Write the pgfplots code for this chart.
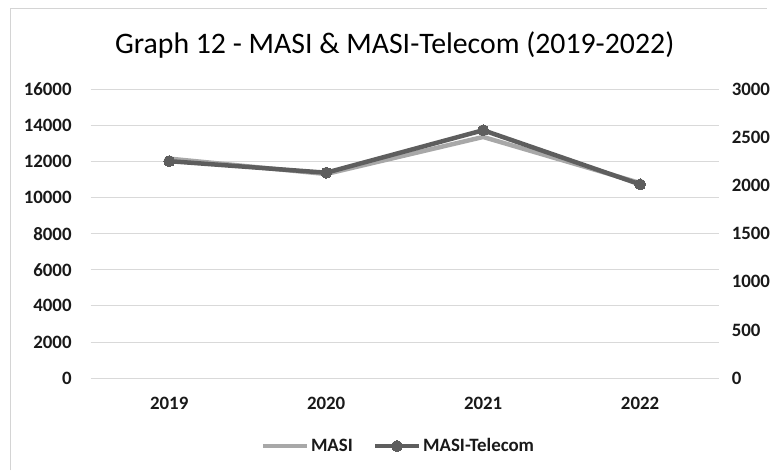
\documentclass[border=0pt]{standalone}
\usepackage{pgfplots}
\pgfplotsset{compat=1.18}
\usepackage{fontspec}
\setmainfont{Carlito}
\definecolor{masi}{HTML}{A8A8A8}
\definecolor{tel}{HTML}{5E5E5E}
\definecolor{gridc}{HTML}{D9D9D9}
\definecolor{framec}{HTML}{D4D4D4}
\begin{document}
\begin{tikzpicture}[x=1bp,y=1bp]
\path (0,0) rectangle (770,472);
\draw[framec, line width=1bp] (10.5,0) -- (10.5,463) -- (770,463);
\node[font=\fontsize{30}{34}\selectfont, anchor=base, text=black] at (396,418) {Graph 12 - MASI \& MASI-Telecom (2019-2022)};
\begin{axis}[
  at={(91bp,92.6bp)}, anchor=south west,
  scale only axis, width=630bp, height=290bp,
  xmin=-0.5, xmax=3.5, ymin=0, ymax=16000,
  xtick={0,1,2,3}, xticklabels={2019,2020,2021,2022},
  ytick={0,2000,...,16000},
  scaled y ticks=false,
  axis y line*=left, axis x line*=bottom,
  axis line style={draw=none}, major tick style={draw=none},
  xmajorgrids=false, ymajorgrids=true, grid style={gridc, line width=0.9bp},
  /pgf/number format/assume math mode=true,
  /pgf/number format/1000 sep={},
  tick label style={font=\bfseries\fontsize{19}{22}\selectfont, text=black!90},
  yticklabel style={anchor=east, inner sep=0pt, xshift=-19bp},
  xticklabel style={anchor=north, inner sep=0pt, yshift=-18.5bp},
  clip=false,
]
\addplot[masi, line width=4.5bp] coordinates {(0,12150) (1,11300) (2,13350) (3,10800)};
\end{axis}
\begin{axis}[
  at={(91bp,92.6bp)}, anchor=south west,
  scale only axis, width=630bp, height=290bp,
  xmin=-0.5, xmax=3.5, ymin=0, ymax=3000,
  xtick=\empty,
  ytick={0,500,...,3000},
  scaled y ticks=false,
  axis y line*=right, axis x line=none,
  axis line style={draw=none}, major tick style={draw=none},
  /pgf/number format/assume math mode=true,
  /pgf/number format/1000 sep={},
  tick label style={font=\bfseries\fontsize{19}{22}\selectfont, text=black!90},
  yticklabel style={anchor=west, inner sep=0pt, xshift=13bp},
  clip=false,
  legend style={at={(0.49,-0.235)}, anchor=center, draw=none, fill=none,
    legend columns=2, font=\bfseries\fontsize{19}{22}\selectfont,
    nodes={inner xsep=2bp, text=black!90},
    /tikz/every even column/.append style={column sep=18bp}},
  legend image code/.code={\draw[#1] (0bp,0bp) -- (44bp,0bp); \path[#1] plot coordinates {(22bp,0bp)};},
]
\addlegendimage{masi, line width=4.5bp}
\addlegendentry{MASI}
\addplot[tel, line width=4.5bp, mark=*, mark size=5.5bp, mark options={fill=tel, draw=tel, line width=0pt}] coordinates {(0,2252) (1,2132) (2,2573) (3,2011)};
\addlegendentry{MASI-Telecom}
\end{axis}
\end{tikzpicture}
\end{document}
